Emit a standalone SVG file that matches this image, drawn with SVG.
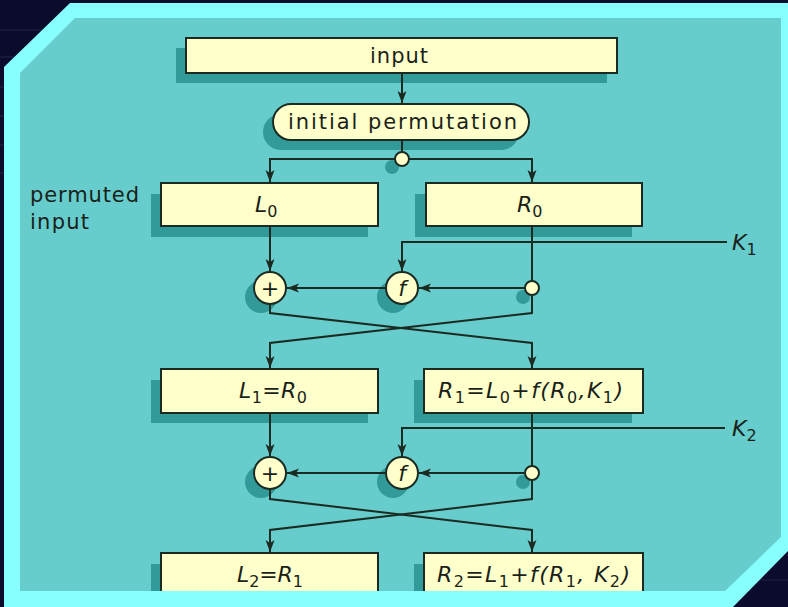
<svg xmlns="http://www.w3.org/2000/svg" width="788" height="607" viewBox="0 0 788 607">
<style>
.box{fill:#ffffcc;stroke:#1b2b22;stroke-width:2}
.sh{fill:#339a9a}
.ln{fill:none;stroke:#1b2b22;stroke-width:2}
.ar{fill:none;stroke:#1b2b22;stroke-width:2;marker-end:url(#ah)}
.t{font-family:"DejaVu Sans","Liberation Sans",sans-serif;font-size:21px;fill:#1a1f1a}
.m{font-family:"DejaVu Sans","Liberation Sans",sans-serif;font-size:22px;fill:#1a1f1a}
.i{font-style:italic}
.s{font-size:16px}
</style>
<defs>
<marker id="ah" markerUnits="userSpaceOnUse" markerWidth="13" markerHeight="10" refX="12" refY="4.5" orient="auto">
<path d="M0,0 L12,4.5 L0,9 L3,4.5 Z" fill="#1b2b22"/>
</marker>
<clipPath id="inner"><polygon points="75,18 781,18 781,537 725,591 20,591 20,73"/></clipPath>
</defs>
<rect x="0" y="0" width="788" height="607" fill="#0b0b2b"/>
<g stroke="#24244e" stroke-width="1">
<line x1="0" y1="30" x2="70" y2="30"/><line x1="0" y1="57" x2="60" y2="57"/>
<line x1="0" y1="87" x2="4" y2="87"/><line x1="0" y1="116" x2="4" y2="116"/><line x1="0" y1="145" x2="4" y2="145"/><line x1="0" y1="173" x2="4" y2="173"/>
<line x1="740" y1="580" x2="788" y2="580"/>
</g>
<polygon points="70,3 788,3 788,551 733,607 4,607 4,67" fill="#88ffff"/>
<polygon points="75,18 781,18 781,537 725,591 20,591 20,73" fill="#66cccc"/>
<g clip-path="url(#inner)">
<g id="shadows" class="sh">
<rect x="176" y="48" width="431" height="35"/>
<rect x="263" y="114" width="256" height="36" rx="18"/>
<circle cx="392" cy="167" r="7"/>
<rect x="151" y="194" width="217" height="43"/>
<rect x="415" y="194" width="217" height="43"/>
<circle cx="261" cy="297" r="16"/><circle cx="393" cy="297" r="16"/><circle cx="523" cy="297" r="7"/>
<rect x="151" y="380" width="217" height="43"/>
<rect x="414" y="380" width="218" height="43"/>
<circle cx="261" cy="482" r="16"/><circle cx="393" cy="482" r="16"/><circle cx="523" cy="482" r="7"/>
<rect x="151" y="564" width="217" height="43"/>
<rect x="414" y="564" width="218" height="43"/>
</g>
<g id="connectors">
<path class="ar" d="M402,73 V103"/>
<path class="ln" d="M402,140 V152"/>
<path class="ar" d="M402,159 H270 V182"/>
<path class="ar" d="M402,159 H532 V182"/>
<path class="ar" d="M270,226 V271"/>
<path class="ln" d="M532,226 V281"/>
<path class="ar" d="M727,242 H402 V271"/>
<path class="ar" d="M525,288 H419"/>
<path class="ar" d="M386,288 H287"/>
<path class="ar" d="M270,304 V313 L532,343 V368"/>
<path class="ar" d="M532,295 V313 L270,343 V368"/>
<path class="ar" d="M270,413 V456"/>
<path class="ln" d="M532,413 V466"/>
<path class="ar" d="M725,428 H402 V456"/>
<path class="ar" d="M525,473 H419"/>
<path class="ar" d="M386,473 H287"/>
<path class="ar" d="M270,489 V499 L532,530 V552"/>
<path class="ar" d="M532,480 V499 L270,530 V552"/>
</g>
<g id="input"><rect class="box" x="186" y="38" width="431" height="35"/><text class="t" x="370" y="63" textLength="58" lengthAdjust="spacing">input</text></g>
<g id="initial-permutation"><rect class="box" x="273" y="104" width="256" height="36" rx="18"/><text class="t" x="288" y="129" textLength="229" lengthAdjust="spacing">initial permutation</text></g>
<g id="split"><circle class="box" cx="402" cy="159" r="7"/></g>
<g id="permuted-label"><text class="t" x="30" y="202" textLength="109" lengthAdjust="spacing">permuted</text><text class="t" x="30" y="229" textLength="59" lengthAdjust="spacing">input</text></g>
<g id="L0"><rect class="box" x="161" y="183" width="217" height="43"/><text class="m" x="255" y="212"><tspan class="i">L</tspan><tspan class="s" dy="5">0</tspan></text></g>
<g id="R0"><rect class="box" x="426" y="183" width="216" height="43"/><text class="m" x="517" y="212"><tspan class="i">R</tspan><tspan class="s" dy="5">0</tspan></text></g>
<g id="K1"><text class="m" x="732" y="250"><tspan class="i">K</tspan><tspan class="s" dy="5">1</tspan></text></g>
<g id="xor1"><circle class="box" cx="270" cy="288" r="16"/><text class="m" x="270" y="296" text-anchor="middle">+</text></g>
<g id="f1"><circle class="box" cx="402" cy="288" r="16"/><text class="m i" x="402" y="296" text-anchor="middle">f</text></g>
<g id="j1"><circle class="box" cx="532" cy="288" r="7"/></g>
<g id="L1"><rect class="box" x="161" y="369" width="217" height="44"/><text class="m" x="239" y="398" textLength="68" lengthAdjust="spacing"><tspan class="i">L</tspan><tspan class="s" dy="5">1</tspan><tspan dy="-5">=</tspan><tspan class="i">R</tspan><tspan class="s" dy="5">0</tspan></text></g>
<g id="R1"><rect class="box" x="424" y="369" width="219" height="44"/><text class="m" x="438" y="398" textLength="185" lengthAdjust="spacing"><tspan class="i">R</tspan><tspan class="s" dy="5">1</tspan><tspan dy="-5">=</tspan><tspan class="i">L</tspan><tspan class="s" dy="5">0</tspan><tspan dy="-5">+</tspan><tspan class="i">f(R</tspan><tspan class="s" dy="5">0</tspan><tspan dy="-5" class="i">,K</tspan><tspan class="s" dy="5">1</tspan><tspan dy="-5" class="i">)</tspan></text></g>
<g id="K2"><text class="m" x="732" y="436"><tspan class="i">K</tspan><tspan class="s" dy="5">2</tspan></text></g>
<g id="xor2"><circle class="box" cx="270" cy="473" r="16"/><text class="m" x="270" y="481" text-anchor="middle">+</text></g>
<g id="f2"><circle class="box" cx="402" cy="473" r="16"/><text class="m i" x="402" y="481" text-anchor="middle">f</text></g>
<g id="j2"><circle class="box" cx="532" cy="473" r="7"/></g>
<g id="L2"><rect class="box" x="161" y="553" width="217" height="44"/><text class="m" x="237" y="582" textLength="66" lengthAdjust="spacing"><tspan class="i">L</tspan><tspan class="s" dy="5">2</tspan><tspan dy="-5">=</tspan><tspan class="i">R</tspan><tspan class="s" dy="5">1</tspan></text></g>
<g id="R2"><rect class="box" x="424" y="553" width="219" height="44"/><text class="m" x="437" y="582" textLength="193" lengthAdjust="spacing"><tspan class="i">R</tspan><tspan class="s" dy="5">2</tspan><tspan dy="-5">=</tspan><tspan class="i">L</tspan><tspan class="s" dy="5">1</tspan><tspan dy="-5">+</tspan><tspan class="i">f(R</tspan><tspan class="s" dy="5">1</tspan><tspan dy="-5" class="i">, K</tspan><tspan class="s" dy="5">2</tspan><tspan dy="-5" class="i">)</tspan></text></g>
</g>
</svg>
